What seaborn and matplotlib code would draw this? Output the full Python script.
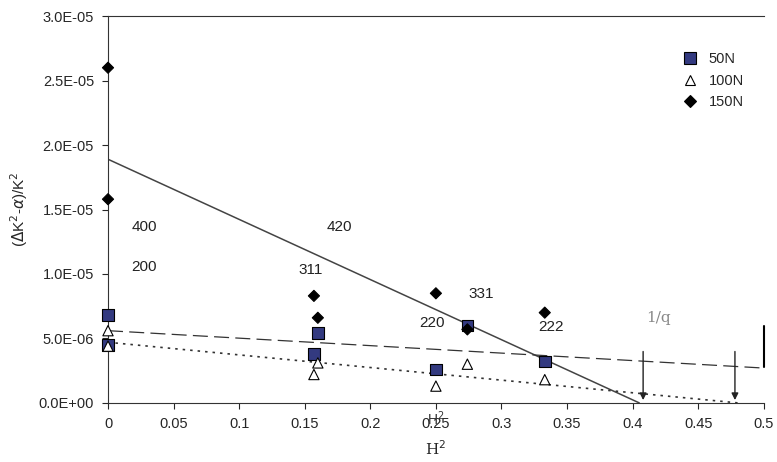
import matplotlib
matplotlib.use("Agg")
import matplotlib.pyplot as plt
import numpy as np
import pandas as pd
import seaborn as sns

h2 = [0, 0, 0.157, 0.16, 0.25, 0.274, 0.333]
n50 = [6.8e-6, 4.5e-6, 3.8e-6, 5.4e-6, 2.6e-6, 6.0e-6, 3.2e-6]
n100 = [5.6e-6, 4.4e-6, 2.2e-6, 3.1e-6, 1.3e-6, 3.0e-6, 1.8e-6]
n150 = [2.6e-5, 1.58e-5, 8.3e-6, 6.6e-6, 8.5e-6, 5.7e-6, 7.0e-6]

fit_solid = ([0, 0.405], [1.89e-5, 0])
fit_dash = ([0, 0.5], [5.6e-6, 2.7e-6])
fit_dot = ([0, 0.48], [4.7e-6, 0])
arrows_x = [0.408, 0.478]

hkl = ["400", "200", "420", "311", "331", "220", "222"]
hkl_x = [0.018, 0.018, 0.167, 0.145, 0.275, 0.237, 0.328]
hkl_y = [1.33e-5, 1.02e-5, 1.33e-5, 1.0e-5, 8.1e-6, 5.9e-6, 5.6e-6]

df = pd.DataFrame({"H2": h2 * 3, "val": n50 + n100 + n150,
                   "load": ["50N"] * 7 + ["100N"] * 7 + ["150N"] * 7})

sns.set_style("white")
plt.rcParams["font.family"] = ["Liberation Sans", "DejaVu Sans"]
fig, ax = plt.subplots(figsize=(7.77, 4.62), dpi=100)
fig.subplots_adjust(left=0.139, right=0.983, top=0.965, bottom=0.128)

ax.plot(*fit_solid, color="#444444", lw=1.1, zorder=1)
ax.plot(*fit_dash, color="#333333", lw=0.9, ls=(0, (12, 5)), zorder=1)
ax.plot(*fit_dot, color="#333333", lw=1.2, ls=(0, (1.5, 3)), zorder=1)

sns.scatterplot(data=df, x="H2", y="val", hue="load", style="load",
                markers={"50N": "s", "100N": "^", "150N": "D"},
                palette={"50N": "#333a80", "100N": "white", "150N": "black"},
                size="load", sizes={"50N": 70, "100N": 55, "150N": 32},
                edgecolor="black", linewidth=0.8, ax=ax, zorder=3,
                clip_on=False)

for xa in arrows_x:
    ax.annotate("", xy=(xa, 0), xytext=(xa, 4.2e-6),
                arrowprops=dict(arrowstyle="-|>", color="#222222", lw=1.0))
ax.text(0.41, 6.3e-6, "1/q", family="DejaVu Serif", fontsize=11, color="#888888")

for t, x, y in zip(hkl, hkl_x, hkl_y):
    ax.text(x, y, t, fontsize=11, color="#222222")

ax.set_xlim(0, 0.5)
ax.set_ylim(0, 3e-5)
ax.set_xticks(np.arange(0, 0.51, 0.05))
ax.set_xticklabels(["0", "0.05", "0.1", "0.15", "0.2", "0.25", "0.3", "0.35", "0.4", "0.45", "0.5"])
ax.set_yticks(np.arange(0, 3.01e-5, 5e-6))
ax.set_yticklabels(["0.0E+00", "5.0E-06", "1.0E-05", "1.5E-05", "2.0E-05", "2.5E-05", "3.0E-05"])
ax.tick_params(axis="both", labelsize=10.5, length=4, direction="out",
               left=True, bottom=True, pad=6)
ax.set_xlabel("H$^2$", family="DejaVu Serif", fontsize=11, labelpad=6)
ax.set_ylabel(r"($\Delta$K$^2$-$\alpha$)/K$^2$", fontsize=11, labelpad=6)
ax.text(0.25, -1.75e-6, "H$^2$", fontsize=10, ha="center", color="#333333")

for s in ["top", "left", "bottom"]:
    ax.spines[s].set_color("#333333")
ax.spines["right"].set_visible(False)
ax.plot([0.5, 0.5], [2.8e-6, 6.0e-6], color="black", lw=1.5, clip_on=False)

leg = ax.legend(title=None, frameon=False, loc="upper right",
                bbox_to_anchor=(0.99, 0.94), fontsize=10.5, handletextpad=0.3)

fig.savefig("out.png", dpi=100)
